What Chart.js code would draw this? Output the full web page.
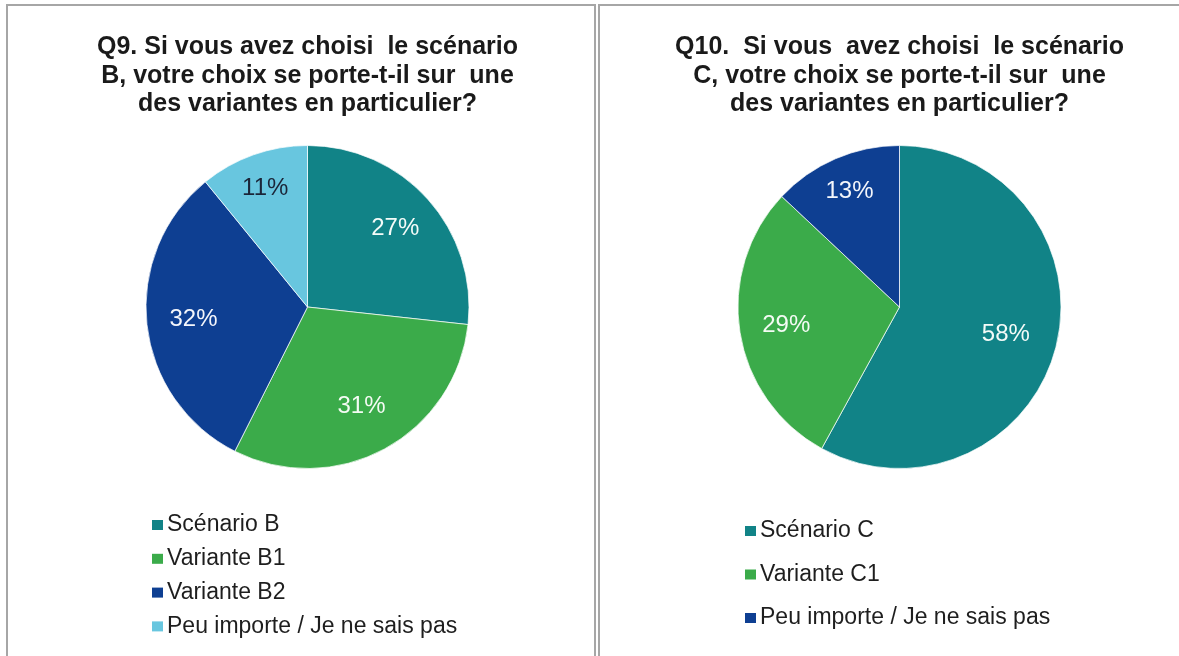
<!DOCTYPE html>
<html>
<head>
<meta charset="utf-8">
<script src="https://cdn.jsdelivr.net/npm/chart.js@4.4.0/dist/chart.umd.min.js"></script>
<style>
  html, body { margin: 0; padding: 0; background: #fff; overflow: hidden; }
  body { width: 1179px; height: 656px; position: relative; }
  .panel { position: absolute; top: 4px; height: 700px; border: 2px solid #a6a6a6; background: #fff; overflow: hidden; }
  #panelB { left: 6px; width: 586px; }
  #panelC { left: 598px; width: 600px; }
  .panel canvas { position: absolute; left: 0; top: 0; }
</style>
</head>
<body>
<div class="panel" id="panelB"><canvas id="chartB" width="586" height="650"></canvas></div>
<div class="panel" id="panelC"><canvas id="chartC" width="586" height="650"></canvas></div>
<script>
// Q9 - scenario B
const titleB = ['Q9. Si vous avez choisi  le scénario', 'B, votre choix se porte-t-il sur  une', 'des variantes en particulier?'];
const labelsB = ['Scénario B', 'Variante B1', 'Variante B2', 'Peu importe / Je ne sais pas'];
const valuesB = [27, 31, 32, 11];

// Q10 - scenario C
const titleC = ['Q10.  Si vous  avez choisi  le scénario', 'C, votre choix se porte-t-il sur  une', 'des variantes en particulier?'];
const labelsC = ['Scénario C', 'Variante C1', 'Peu importe / Je ne sais pas'];
const valuesC = [58, 29, 13];

const TEAL = '#118387';
const GREEN = '#3bab4a';
const NAVY = '#0e3f92';
const LIGHT = '#68c6df';

// draws the % labels inside the slices
const sliceLabels = {
  id: 'sliceLabels',
  afterDatasetsDraw(chart, args, opts) {
    const ctx = chart.ctx;
    const meta = chart.getDatasetMeta(0);
    const values = chart.data.datasets[0].data;
    ctx.save();
    ctx.font = opts.font;
    ctx.textAlign = 'center';
    ctx.textBaseline = 'middle';
    meta.data.forEach((arc, i) => {
      const p = arc.getProps(['x', 'y', 'startAngle', 'endAngle', 'outerRadius'], true);
      const mid = (p.startAngle + p.endAngle) / 2;
      const r = p.outerRadius * opts.radius[i];
      ctx.fillStyle = opts.colors[i];
      ctx.fillText(values[i] + '%', p.x + Math.cos(mid) * r, p.y + Math.sin(mid) * r);
    });
    ctx.restore();
  }
};

// one-item-per-row legend under the pie
const listLegend = {
  id: 'listLegend',
  afterDraw(chart, args, opts) {
    const ctx = chart.ctx;
    const ds = chart.data.datasets[0];
    ctx.save();
    ctx.font = opts.font;
    ctx.textBaseline = 'middle';
    ctx.textAlign = 'left';
    chart.data.labels.forEach((label, i) => {
      const y = opts.top + i * opts.step;
      ctx.fillStyle = ds.backgroundColor[i];
      ctx.fillRect(opts.left, y - 5, 11, 10);
      ctx.fillStyle = opts.color;
      ctx.fillText(label, opts.left + 15, y);
    });
    ctx.restore();
  }
};

function makePie(id, title, labels, values, colors, labelColors, labelRadius, legend) {
  return new Chart(document.getElementById(id), {
    type: 'pie',
    data: {
      labels: labels,
      datasets: [{
        data: values,
        backgroundColor: colors,
        borderColor: 'rgba(255,255,255,0.7)',
        borderWidth: 1,
      }],
    },
    options: {
      responsive: false,
      animation: false,
      layout: { padding: { top: 27, left: 13, right: 0, bottom: 187 } },
      plugins: {
        title: {
          display: true,
          text: title,
          color: '#1a1a1a',
          font: { family: '"Liberation Sans", Arial, sans-serif', size: 25, weight: 'bold', lineHeight: '28.5px' },
          padding: { top: 0, bottom: 26.5 },
        },
        legend: { display: false },
        tooltip: { enabled: false },
        sliceLabels: { font: '24px "Liberation Sans", Arial, sans-serif', colors: labelColors, radius: labelRadius },
        listLegend: Object.assign({ font: '23px "Liberation Sans", Arial, sans-serif', color: '#1e1e1e' }, legend),
      },
    },
    plugins: [sliceLabels, listLegend],
  });
}

makePie('chartB', titleB, labelsB, valuesB,
  [TEAL, GREEN, NAVY, LIGHT],
  ['#f4fbf8', '#f4fbf4', '#f4f6fb', '#1b2538'],
  [0.73, 0.70, 0.71, 0.78],
  { left: 144, top: 519, step: 33.8 });

makePie('chartC', titleC, labelsC, valuesC,
  [TEAL, GREEN, NAVY],
  ['#f4fbf8', '#f4fbf4', '#f4f6fb'],
  [0.68, 0.71, 0.78],
  { left: 145, top: 525, step: 43.5 });
</script>
</body>
</html>
